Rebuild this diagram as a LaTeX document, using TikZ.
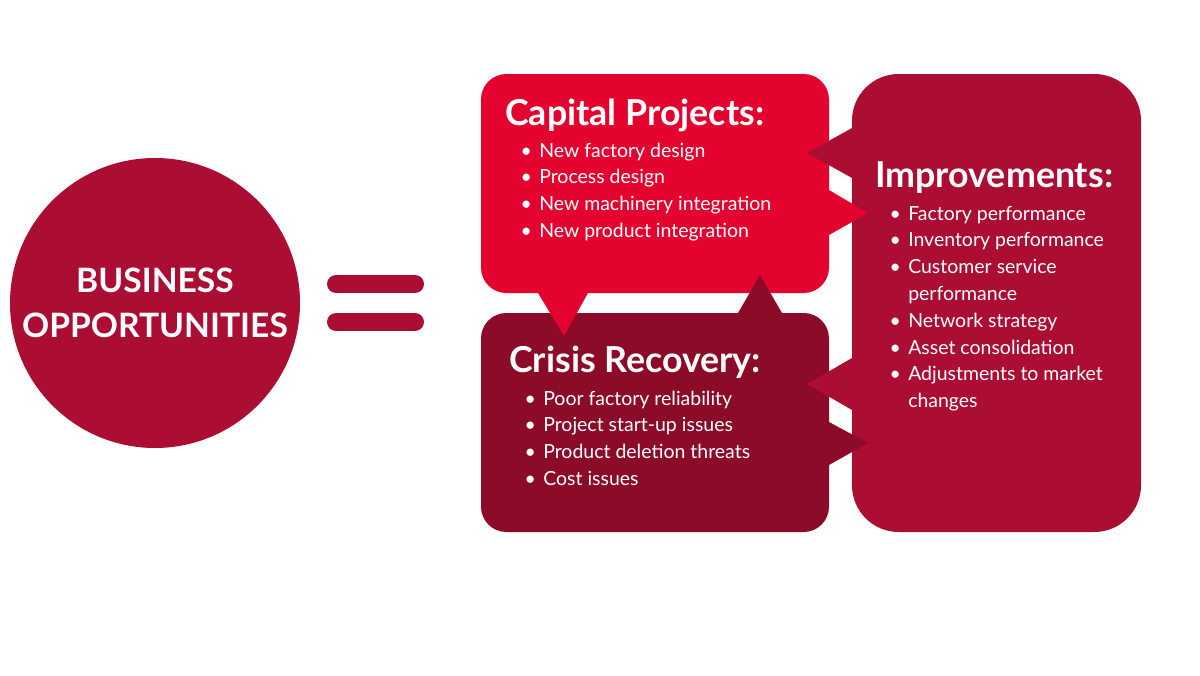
\documentclass[tikz,border=0pt]{standalone}
\usepackage{fontspec}
\setmainfont{Lato}
\usepackage{tikz}
\usetikzlibrary{positioning, calc}
\usepackage{xcolor}
\definecolor{capred}{HTML}{E4032E}
\definecolor{crisisred}{HTML}{8C0B29}
\definecolor{imprred}{HTML}{AB0D33}

\newcommand{\bul}{\llap{\textbullet\hspace{5.5pt}}}

\begin{document}
\begin{tikzpicture}[x=0.75pt, y=-0.75pt,
  every node/.style={text=white, inner sep=0pt},
  title/.style={anchor=base west, font=\fontsize{26.8}{30}\selectfont\bfseries},
  item/.style={anchor=base west, font=\fontsize{14.6}{18}\selectfont}]
  \useasboundingbox (0,0) rectangle (1200,675);

  % left side
  \node[circle, fill=imprred, minimum size=217.5pt, align=center,
        font=\fontsize{25.2}{33.75}\selectfont\bfseries] (biz) at (155,303)
        {BUSINESS\\OPPORTUNITIES};
  \draw[imprred, line width=13.5pt, line cap=round] (336,284) -- (415,284);
  \draw[imprred, line width=13.5pt, line cap=round] (336,322) -- (415,322);

  % boxes
  \fill[capred, rounded corners=19pt] (481,74) rectangle (829,293);
  \fill[crisisred, rounded corners=19pt] (481,313) rectangle (829,532);
  \fill[imprred, rounded corners=35pt] (852,74) rectangle (1141,532);

  % pointers
  \fill[capred] (538,293) -- (564,336) -- (588,293) -- cycle;
  \fill[capred] (829,190) -- (868,213) -- (829,235) -- cycle;
  \fill[crisisred] (738,313) -- (760,275) -- (782,313) -- cycle;
  \fill[crisisred] (829,422) -- (868,443) -- (829,465) -- cycle;
  \fill[imprred] (852,128) -- (807,153) -- (852,178) -- cycle;
  \fill[imprred] (852,358) -- (807,384) -- (852,410) -- cycle;

  % capital projects
  \node[title] (cap) at (505,125) {Capital Projects:};
  \foreach \t [count=\i] in {New factory design, Process design,
      New machinery integration, New product integration}
    \node[item] (cap\i) at (539,157+26.7*\i-26.7) {\bul\t};

  % crisis recovery
  \node[title] (cri) at (509,372) {Crisis Recovery:};
  \foreach \t [count=\i] in {Poor factory reliability, Project start-up issues,
      Product deletion threats, Cost issues}
    \node[item] (cri\i) at (543,405+26.7*\i-26.7) {\bul\t};

  % improvements
  \node[title] (imp) at (875,187) {Improvements:};
  \foreach \t [count=\i] in {\bul Factory performance, \bul Inventory performance,
      \bul Customer service, performance, \bul Network strategy,
      \bul Asset consolidation, \bul Adjustments to market, changes}
    \node[item] (imp\i) at (908,220+26.8*\i-26.8) {\t};
\end{tikzpicture}
\end{document}
